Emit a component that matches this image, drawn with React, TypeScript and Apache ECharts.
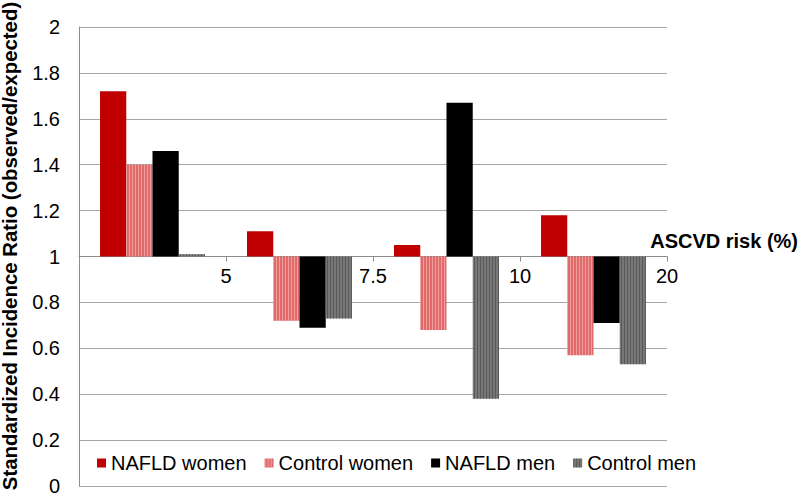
import React, { useEffect, useRef } from "react";
import * as echarts from "echarts";

const categories = ["≤5", "5–7.5", "7.5–10", "10–20"];
const tickLabels = ["5", "7.5", "10", "20"];
const naflWomen = [1.72, 1.11, 1.05, 1.18];
const controlWomen = [1.4, 0.72, 0.68, 0.57];
const naflMen = [1.46, 0.69, 1.67, 0.71];
const controlMen = [1.01, 0.73, 0.38, 0.53];
const BASE = 1;

const FONT = "'Liberation Sans', Arial, sans-serif";

export default function App() {
  const ref = useRef<HTMLDivElement>(null);
  useEffect(() => {
    document.body.style.margin = "0";
    const chart = echarts.init(ref.current!, null, { renderer: "svg" });
    const shift = (arr: number[]) => arr.map((v) => +(v - BASE).toFixed(4));
    const stripe = (color: string) => ({
      symbol: "rect",
      symbolSize: 1,
      dashArrayX: [1, 2],
      dashArrayY: [1, 0],
      rotation: 0,
      color,
    });
    chart.setOption({
      animation: false,
      grid: {
        left: 79,
        top: 27,
        width: 588,
        height: 459,
        containLabel: false,
        outerBoundsMode: "none",
      },
      legend: {
        left: 97,
        top: 453,
        padding: 0,
        itemWidth: 9,
        itemHeight: 9,
        itemGap: 18,
        icon: "rect",
        textStyle: { fontSize: 20, color: "#000", fontFamily: FONT },
        data: ["NAFLD women", "Control women", "NAFLD men", "Control men"],
      },
      xAxis: {
        type: "category",
        data: categories,
        offset: -229.5,
        axisLine: { onZero: false, lineStyle: { color: "#8c8c8c", width: 1 } },
        axisTick: { show: true, length: 5, lineStyle: { color: "#8c8c8c" } },
        axisLabel: {
          fontSize: 20,
          color: "#000",
          fontFamily: FONT,
          margin: 9,
          padding: [0, 0, 0, 147],
          formatter: (_v: string, i: number) => tickLabels[i],
        },
        splitLine: { show: false },
      },
      yAxis: {
        type: "value",
        min: -1,
        max: 1,
        interval: 0.2,
        axisLine: { show: true, lineStyle: { color: "#8c8c8c" } },
        axisTick: { show: false },
        axisLabel: {
          fontSize: 20,
          color: "#000",
          fontFamily: FONT,
          margin: 19,
          formatter: (v: number) => String(Math.round((v + BASE) * 10) / 10),
        },
        splitLine: { show: true, lineStyle: { color: "#a6a6a6", width: 1 } },
      },
      series: [
        {
          name: "NAFLD women",
          type: "bar",
          data: shift(naflWomen),
          barGap: "0%",
          barCategoryGap: "28.6%",
          itemStyle: { color: "#c00000" },
        },
        {
          name: "Control women",
          type: "bar",
          data: shift(controlWomen),
          itemStyle: { color: "#e06a6a", decal: stripe("rgba(255,210,210,0.5)") },
        },
        {
          name: "NAFLD men",
          type: "bar",
          data: shift(naflMen),
          itemStyle: { color: "#000000" },
        },
        {
          name: "Control men",
          type: "bar",
          data: shift(controlMen),
          itemStyle: { color: "#777777", decal: stripe("rgba(60,60,60,0.5)") },
        },
      ],
      graphic: [
        {
          type: "text",
          x: 10,
          y: 246,
          rotation: Math.PI / 2,
          style: {
            text: "Standardized Incidence Ratio (observed/expected)",
            font: `bold 20.4px ${FONT}`,
            fill: "#000",
            textAlign: "center",
            textVerticalAlign: "middle",
          },
        },
        {
          type: "text",
          x: 798,
          y: 241,
          style: {
            text: "ASCVD risk (%)",
            font: `bold 20px ${FONT}`,
            fill: "#000",
            textAlign: "right",
            textVerticalAlign: "middle",
          },
        },
      ],
    });
    return () => chart.dispose();
  }, []);
  return (
    <div
      ref={ref}
      style={{ position: "absolute", left: 0, top: 0, width: 800, height: 493 }}
    />
  );
}
